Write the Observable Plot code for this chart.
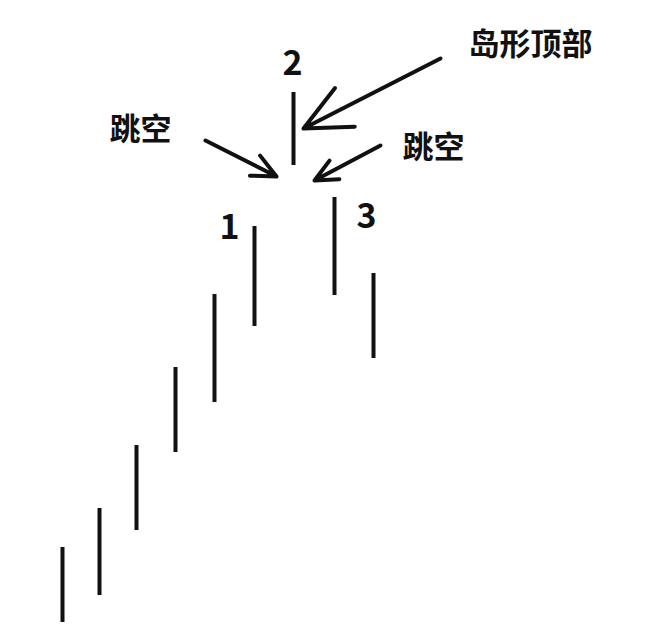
<!DOCTYPE html>
<html>
<head>
<meta charset="UTF-8">
<script src="https://cdn.jsdelivr.net/npm/d3@7"></script>
<script src="https://cdn.jsdelivr.net/npm/@observablehq/plot@0.6/dist/plot.umd.min.js"></script>
<style>body{margin:0;background:#fff}</style>
</head>
<body>
<div id="chart"></div>
<script>
// bars: position, top, bottom (drawing units)
const barX = [62, 99, 136, 175, 214, 254, 293, 334, 373];
const barTop = [547, 508, 445, 367, 294, 226, 92, 197, 273];
const barBottom = [622, 595, 530, 452, 402, 326, 165, 295, 358];

const labelText = ["1", "2", "3", "跳空", "跳空", "岛形顶部"];
const labelX = [229, 292, 366, 140, 433, 530];
const labelY = [228, 64, 217, 130, 148, 45];
const labelSize = [34, 34, 34, 31, 31, 31];

const arrowX1 = [205, 380, 440];
const arrowY1 = [140, 145, 58];
const arrowX2 = [276, 314, 303];
const arrowY2 = [176, 180, 128];

const bars = barX.map((x, i) => ({x, y1: barTop[i], y2: barBottom[i]}));
const labels = labelText.map((t, i) => ({t, x: labelX[i], y: labelY[i], s: labelSize[i]}));
const arrows = arrowX1.map((x1, i) => ({x1, y1: arrowY1[i], x2: arrowX2[i], y2: arrowY2[i]}));

const plot = Plot.plot({
  width: 655, height: 644, margin: 0,
  x: {domain: [0, 655], axis: null},
  y: {domain: [0, 644], reverse: true, axis: null},
  style: {fontFamily: "'Noto Sans CJK SC', sans-serif", background: "#fff"},
  marks: [
    Plot.ruleX(bars, {x: "x", y1: "y1", y2: "y2", stroke: "#111", strokeWidth: 4}),
    Plot.arrow(arrows, {x1: "x1", y1: "y1", x2: "x2", y2: "y2", stroke: "#111", strokeWidth: 4, headLength: 20, headAngle: 50}),
    ...labels.map(d => Plot.text([d], {x: "x", y: "y", text: "t", fontSize: d.s, fontWeight: "bold", fill: "#111"}))
  ]
});
document.getElementById("chart").append(plot);
</script>
</body>
</html>
